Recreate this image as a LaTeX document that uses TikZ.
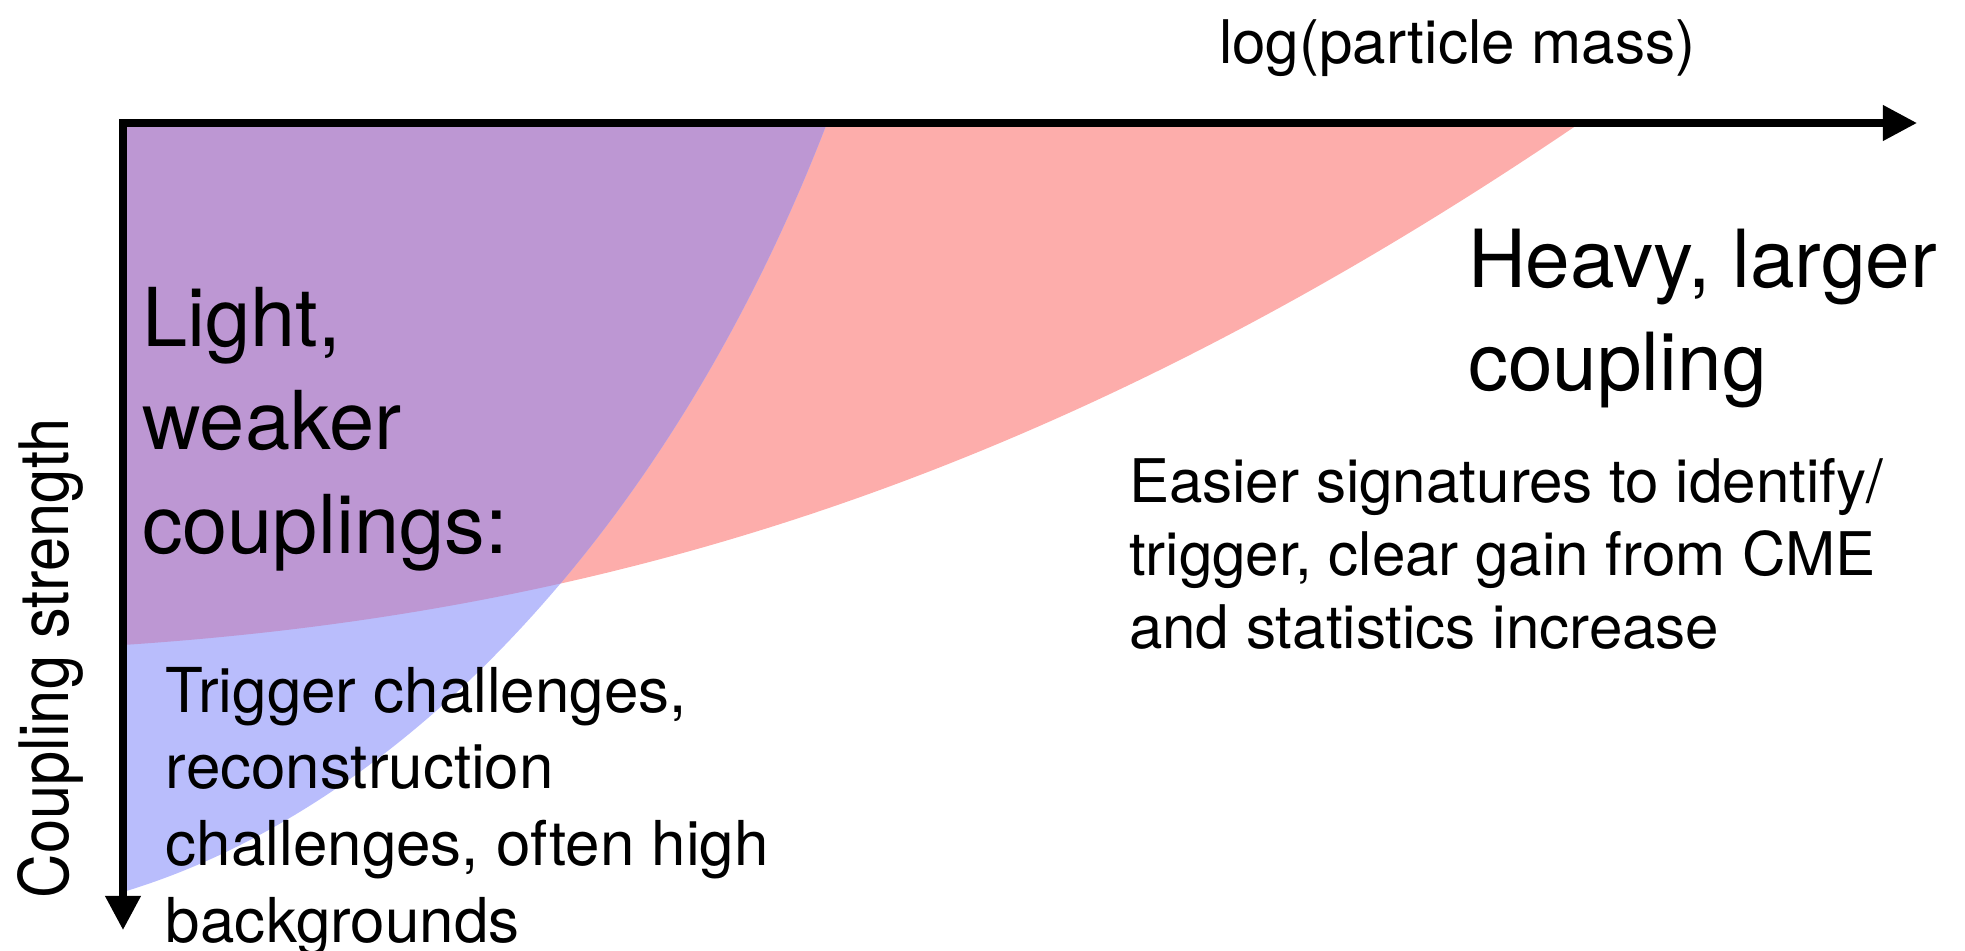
\documentclass[tikz,border=0pt]{standalone}
\usepackage{fontspec}
\usepackage{graphicx}
\setmainfont{TeX Gyre Heros}
\usetikzlibrary{arrows.meta}

\definecolor{heavyfill}{HTML}{FDADAB}
\definecolor{lightfill}{HTML}{B9BDFC}
\definecolor{bothfill}{HTML}{BD97D3}

\begin{document}
\begin{tikzpicture}[x=0.01cm, y=-0.01cm,
  lbl/.style={anchor=base west, inner sep=0pt, outer sep=0pt, text=black},
  axisfont/.style={font=\fontsize{17.1pt}{20pt}\selectfont},
  bigfont/.style={font=\fontsize{23.1pt}{28pt}\selectfont},
  heavyfont/.style={font=\fontsize{22.8pt}{28pt}\selectfont},
  easyfont/.style={font=\fontsize{17.1pt}{20pt}\selectfont},
  hardfont/.style={font=\fontsize{17.6pt}{21pt}\selectfont},
  yfont/.style={font=\fontsize{19.4pt}{22pt}\selectfont},
  axisline/.style={line width=2pt, line join=miter,
    {Triangle[length=3.4mm,width=3.4mm]}-{Triangle[length=3.4mm,width=3.4mm]}}
]
\useasboundingbox (0,0) rectangle (1965,951);

% heavy particles / larger couplings: above the mass boundary
\fill[heavyfill] (123,123) -- (1580,123) .. controls (1030,497) and (573,615) .. (123,645) -- cycle;

% light particles: left of the steep boundary
\fill[lightfill] (123,123) -- (827,123) .. controls (672,526) and (403,808) .. (123,892) -- cycle;

% overlap of both regions
\begin{scope}
  \clip (123,123) -- (1580,123) .. controls (1030,497) and (573,615) .. (123,645) -- cycle;
  \fill[bothfill] (123,123) -- (827,123) .. controls (672,526) and (403,808) .. (123,892) -- cycle;
\end{scope}

% axes
\coordinate (origin) at (123,123);
\coordinate (xend) at (1917,123);
\coordinate (yend) at (123,930);
\draw[axisline] (xend) -- (origin) -- (yend);

% axis labels
\node[lbl, axisfont] (xlabel) at (1219,63) {log(particle mass)};
\node[lbl, yfont, rotate=90] (ylabel) at (68,898) {\scalebox{0.9}[1]{Coupling strength}};

% light, weak coupling corner
\node[lbl, bigfont] (light1) at (142,346) {Light,};
\node[lbl, bigfont] (light2) at (142,449) {weaker};
\node[lbl, bigfont] (light3) at (142,553) {couplings:};

\node[lbl, hardfont] (hard1) at (166,712) {Trigger challenges,};
\node[lbl, hardfont] (hard2) at (166,788) {reconstruction};
\node[lbl, hardfont] (hard3) at (166,865) {challenges, often high};
\node[lbl, hardfont] (hard4) at (166,942) {backgrounds};

% heavy, strong coupling corner
\node[lbl, heavyfont] (heavy1) at (1468,287) {Heavy, larger};
\node[lbl, heavyfont] (heavy2) at (1468,390) {coupling};

\node[lbl, easyfont] (easy1) at (1129,502) {Easier signatures to identify/};
\node[lbl, easyfont] (easy2) at (1129,575) {trigger, clear gain from CME};
\node[lbl, easyfont] (easy3) at (1129,648) {and statistics increase};
\end{tikzpicture}
\end{document}
